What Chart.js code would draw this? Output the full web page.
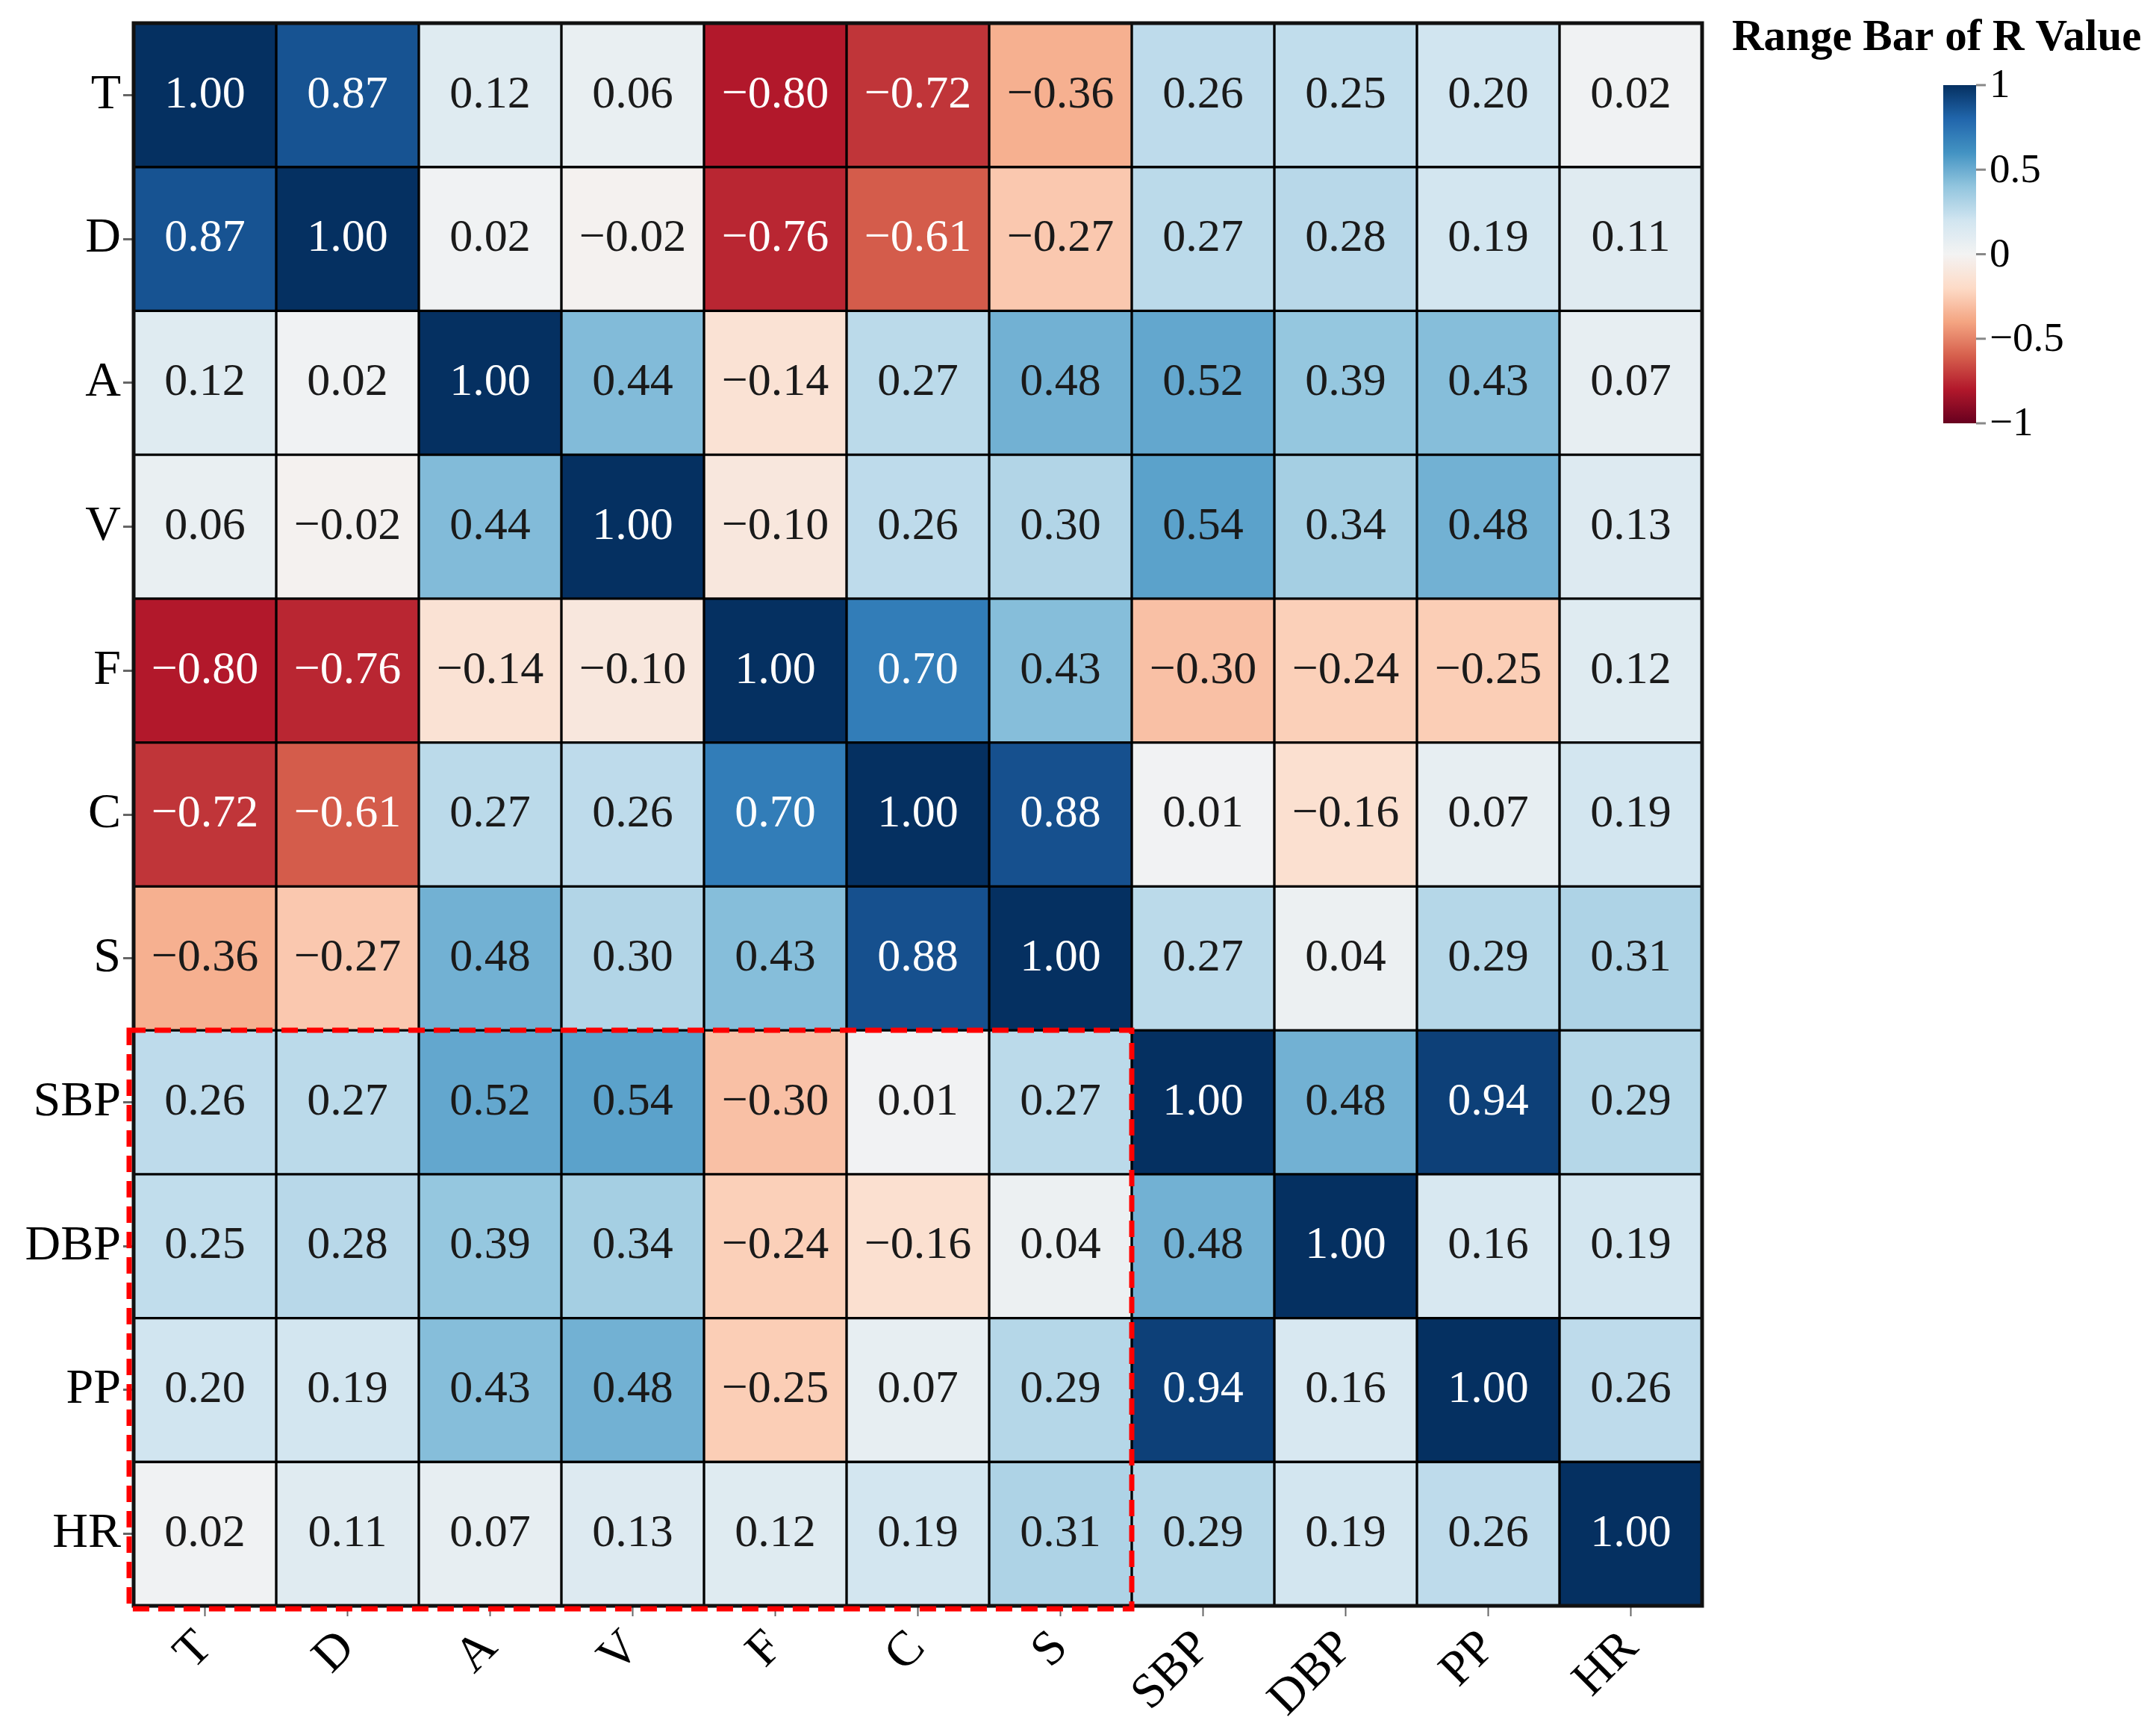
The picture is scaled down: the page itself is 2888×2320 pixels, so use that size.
<!DOCTYPE html>
<html lang="en">
<head>
<meta charset="UTF-8">
<title>Correlation Heatmap</title>
<style>
  html, body { margin: 0; padding: 0; background: #fff; }
  #wrap { width: 2888px; height: 2320px; position: relative; }
</style>
</head>
<body>
<div id="wrap"><canvas id="heat"></canvas></div>

<script src="https://cdn.jsdelivr.net/npm/chart.js"></script>
<script>
// variables, same order on both axes
const variables = ['T', 'D', 'A', 'V', 'F', 'C', 'S', 'SBP', 'DBP', 'PP', 'HR'];

// correlation values, one row per variable
const rT   = [ 1.00,  0.87,  0.12,  0.06, -0.80, -0.72, -0.36,  0.26,  0.25,  0.20, 0.02];
const rD   = [ 0.87,  1.00,  0.02, -0.02, -0.76, -0.61, -0.27,  0.27,  0.28,  0.19, 0.11];
const rA   = [ 0.12,  0.02,  1.00,  0.44, -0.14,  0.27,  0.48,  0.52,  0.39,  0.43, 0.07];
const rV   = [ 0.06, -0.02,  0.44,  1.00, -0.10,  0.26,  0.30,  0.54,  0.34,  0.48, 0.13];
const rF   = [-0.80, -0.76, -0.14, -0.10,  1.00,  0.70,  0.43, -0.30, -0.24, -0.25, 0.12];
const rC   = [-0.72, -0.61,  0.27,  0.26,  0.70,  1.00,  0.88,  0.01, -0.16,  0.07, 0.19];
const rS   = [-0.36, -0.27,  0.48,  0.30,  0.43,  0.88,  1.00,  0.27,  0.04,  0.29, 0.31];
const rSBP = [ 0.26,  0.27,  0.52,  0.54, -0.30,  0.01,  0.27,  1.00,  0.48,  0.94, 0.29];
const rDBP = [ 0.25,  0.28,  0.39,  0.34, -0.24, -0.16,  0.04,  0.48,  1.00,  0.16, 0.19];
const rPP  = [ 0.20,  0.19,  0.43,  0.48, -0.25,  0.07,  0.29,  0.94,  0.16,  1.00, 0.26];
const rHR  = [ 0.02,  0.11,  0.07,  0.13,  0.12,  0.19,  0.31,  0.29,  0.19,  0.26, 1.00];
const matrix = [rT, rD, rA, rV, rF, rC, rS, rSBP, rDBP, rPP, rHR];

// colour bar
const legendTitle = 'Range Bar of R Value';
const colorbarTicks = [1, 0.5, 0, -0.5, -1];

// dashed highlight block (first/last row, first/last column)
const boxRows = ['SBP', 'HR'];
const boxCols = ['T', 'S'];

// RdBu palette, -1 .. 1
const rdbu = ['#67001F', '#B2182B', '#D6604D', '#F4A582', '#FDDBC7', '#F3F3F3',
              '#D1E5F0', '#92C5DE', '#4393C3', '#2166AC', '#053061'];

function hexToRgb(h) {
    return [parseInt(h.slice(1, 3), 16), parseInt(h.slice(3, 5), 16), parseInt(h.slice(5, 7), 16)];
}

function colorFor(v) {
    const t = (Math.max(-1, Math.min(1, v)) + 1) / 2 * (rdbu.length - 1);
    const i = Math.min(Math.floor(t), rdbu.length - 2);
    const f = t - i;
    const a = hexToRgb(rdbu[i]), b = hexToRgb(rdbu[i + 1]);
    const c = a.map((x, k) => Math.round(x + (b[k] - x) * f));
    return `rgb(${c[0]}, ${c[1]}, ${c[2]})`;
}

function fmt(v, digits) {
    return (v < 0 ? '\u2212' : '') + Math.abs(v).toFixed(digits);
}

const serif = "'Liberation Serif', 'Times New Roman', 'DejaVu Serif', serif";

// one floating-bar dataset per row, each bar spans [row, row + 1]
const datasets = matrix.map((row, r) => ({
    label: variables[r],
    data: row.map(() => [r, r + 1]),
    rValues: row,
    backgroundColor: row.map(colorFor),
    borderColor: '#000',
    borderWidth: 2,
    borderSkipped: false,
    barPercentage: 1,
    categoryPercentage: 1,
    grouped: false
}));

// numbers in the cells, frame and dashed box
const cellPlugin = {
    id: 'cells',
    afterDatasetsDraw(chart) {
        const ctx = chart.ctx;
        ctx.save();
        ctx.font = `62px ${serif}`;
        ctx.textAlign = 'center';
        ctx.textBaseline = 'middle';
        chart.data.datasets.forEach((ds, di) => {
            const meta = chart.getDatasetMeta(di);
            meta.data.forEach((el, i) => {
                const p = el.getProps(['x', 'y', 'base'], true);
                const v = ds.rValues[i];
                ctx.fillStyle = Math.abs(v) >= 0.6 ? '#ffffff' : '#1a1a1a';
                ctx.fillText(fmt(v, 2), p.x, (p.y + p.base) / 2);
            });
        });

        const a = chart.chartArea;
        ctx.strokeStyle = '#111';
        ctx.lineWidth = 5;
        ctx.strokeRect(a.left, a.top, a.right - a.left, a.bottom - a.top);

        const xs = chart.scales.x, ys = chart.scales.y;
        const c0 = variables.indexOf(boxCols[0]), c1 = variables.indexOf(boxCols[1]);
        const r0 = variables.indexOf(boxRows[0]), r1 = variables.indexOf(boxRows[1]);
        const left = xs.getPixelForValue(c0 - 0.5) - 6;
        const right = xs.getPixelForValue(c1 + 0.5);
        const top = ys.getPixelForValue(r0);
        const bottom = ys.getPixelForValue(r1 + 1) + 4;
        ctx.strokeStyle = '#FF0000';
        ctx.lineWidth = 7;
        ctx.setLineDash([22, 12]);
        ctx.strokeRect(left, top, right - left, bottom - top);
        ctx.restore();
    }
};

// colour bar legend on the right
const colorbarPlugin = {
    id: 'colorbar',
    afterDraw(chart) {
        const ctx = chart.ctx;
        const x0 = 2603, w = 44, y0 = 114, h = 453;
        ctx.save();
        const g = ctx.createLinearGradient(0, y0, 0, y0 + h);
        for (let k = 0; k <= 40; k++) {
            g.addColorStop(k / 40, colorFor(1 - 2 * k / 40));
        }
        ctx.fillStyle = g;
        ctx.fillRect(x0, y0, w, h);

        ctx.font = `55px ${serif}`;
        ctx.textAlign = 'left';
        ctx.textBaseline = 'middle';
        colorbarTicks.forEach(v => {
            const y = y0 + (1 - v) / 2 * h;
            ctx.strokeStyle = '#888';
            ctx.lineWidth = 3;
            ctx.beginPath();
            ctx.moveTo(x0 + w, y);
            ctx.lineTo(x0 + w + 13, y);
            ctx.stroke();
            ctx.fillStyle = '#000';
            ctx.fillText(v === 0 ? '0' : fmt(v, v % 1 === 0 ? 0 : 1), x0 + w + 18, y + 2);
        });

        ctx.font = `bold 59px ${serif}`;
        ctx.fillText(legendTitle, 2320, 52);
        ctx.restore();
    }
};

new Chart(document.getElementById('heat'), {
    type: 'bar',
    data: { labels: variables, datasets: datasets },
    plugins: [cellPlugin, colorbarPlugin],
    options: {
        responsive: true,
        maintainAspectRatio: false,
        devicePixelRatio: 1,
        animation: false,
        layout: { padding: { left: 0, top: 31, right: 608, bottom: 0 } },
        plugins: {
            legend: { display: false },
            tooltip: { enabled: false }
        },
        scales: {
            x: {
                type: 'category',
                offset: true,
                afterFit: s => { s.height = 169; s.paddingLeft = 0; s.paddingRight = 0; },
                grid: { offset: false, drawOnChartArea: false, tickLength: 14, tickColor: '#666', tickWidth: 2 },
                border: { display: false },
                ticks: {
                    minRotation: 45,
                    maxRotation: 45,
                    autoSkip: false,
                    padding: 4,
                    color: '#000',
                    font: { family: serif, size: 66 }
                }
            },
            y: {
                type: 'linear',
                min: 0,
                max: variables.length,
                reverse: true,
                afterFit: s => { s.width = 179; s.paddingTop = 0; s.paddingBottom = 0; },
                afterBuildTicks: s => { s.ticks = variables.map((v, i) => ({ value: i + 0.5 })); },
                grid: { drawOnChartArea: false, tickLength: 14, tickColor: '#666', tickWidth: 3 },
                border: { display: false },
                ticks: {
                    autoSkip: false,
                    padding: 3,
                    color: '#000',
                    font: { family: serif, size: 66 },
                    callback: (value, index) => variables[index]
                }
            }
        }
    }
});
</script>
</body>
</html>
